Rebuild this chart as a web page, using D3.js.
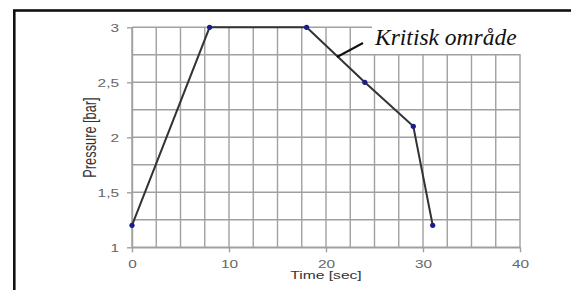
<!DOCTYPE html>
<html><head><meta charset="utf-8">
<script src="https://cdn.jsdelivr.net/npm/d3@7"></script>
<style>body{margin:0;background:#fff}svg{display:block}</style>
</head><body>
<script>
const times = [0, 8, 18, 24, 29, 31];
const pressures = [1.2, 3, 3, 2.5, 2.1, 1.2];
const xTicks = [0, 10, 20, 30, 40];
const yTicks = [1, 1.5, 2, 2.5, 3];
const yTickLabels = ["1", "1,5", "2", "2,5", "3"];
const xLabel = "Time [sec]";
const yLabel = "Pressure [bar]";
const annotation = "Kritisk område";

const W = 571, H = 290;
const svg = d3.select("body").append("svg").attr("width", W).attr("height", H);
const x = d3.scaleLinear().domain([0, 40]).range([132, 520]);
const y = d3.scaleLinear().domain([1, 3]).range([247.3, 27.3]);

// frame
svg.append("rect").attr("x", 14.3).attr("y", 10.5).attr("width", 700).attr("height", 400)
  .attr("fill", "none").attr("stroke", "#111").attr("stroke-width", 2.6);

// grid
const gridX = d3.range(0, 40.01, 2.5), gridY = d3.range(1, 3.001, 0.25);
const g = svg.append("g").attr("stroke", "#a0a0a0").attr("stroke-width", 1.4);
g.selectAll(".gx").data(gridX).join("line")
  .attr("x1", d => x(d)).attr("x2", d => x(d)).attr("y1", y(1)).attr("y2", y(3));
g.selectAll(".gy").data(gridY).join("line")
  .attr("x1", x(0)).attr("x2", x(40)).attr("y1", d => y(d)).attr("y2", d => y(d));

// axes
const ax = svg.append("g").attr("transform", `translate(0,${y(1)})`)
  .call(d3.axisBottom(x).tickValues(xTicks).tickSize(5).tickSizeOuter(0));
const ay = svg.append("g").attr("transform", `translate(${x(0)},0)`)
  .call(d3.axisLeft(y).tickValues(yTicks).tickFormat((d, i) => yTickLabels[i]).tickSize(5).tickSizeOuter(0));
[ax, ay].forEach(a => {
  a.select(".domain").attr("stroke", "#a0a0a0").attr("stroke-width", 1.4);
  a.selectAll(".tick line").attr("stroke", "#a0a0a0").attr("stroke-width", 1.4);
  a.selectAll("text").attr("fill", "#666").attr("font-family", "Arial, 'Liberation Sans', sans-serif").attr("font-size", 11);
});
ax.selectAll(".tick text").attr("y", 0).attr("dy", 0)
  .attr("transform", "translate(0,20.5) scale(1.4,1)");
ay.selectAll(".tick text").attr("x", 0).attr("dy", "0.35em")
  .attr("transform", "translate(-13,0) scale(1.4,1)");

// white box behind annotation
svg.append("rect").attr("x", 372).attr("y", 18).attr("width", 160).attr("height", 36).attr("fill", "#fff");

// axis titles
svg.append("text").attr("transform", `translate(326,279) scale(1.42,1)`)
  .attr("text-anchor", "middle").attr("font-family", "Arial, 'Liberation Sans', sans-serif")
  .attr("font-size", 11).attr("fill", "#333").text(xLabel);
svg.append("text").attr("transform", `translate(96,137.5) scale(1.4,1) rotate(-90)`)
  .attr("text-anchor", "middle").attr("font-family", "Arial, 'Liberation Sans', sans-serif")
  .attr("font-size", 12.8).attr("fill", "#333").text(yLabel);

// data line
const pts = times.map((t, i) => [t, pressures[i]]);
svg.append("path").datum(pts)
  .attr("d", d3.line().x(d => x(d[0])).y(d => y(d[1])))
  .attr("fill", "none").attr("stroke", "#333").attr("stroke-width", 2);
svg.selectAll(".pt").data(pts).join("circle")
  .attr("cx", d => x(d[0])).attr("cy", d => y(d[1])).attr("r", 2.6).attr("fill", "#1c1c8a");

// annotation
svg.append("line").attr("x1", 337).attr("y1", 57).attr("x2", 363).attr("y2", 43)
  .attr("stroke", "#111").attr("stroke-width", 2);
svg.append("text").attr("x", 375).attr("y", 45)
  .attr("font-family", "'Liberation Serif', 'Times New Roman', serif").attr("font-style", "italic")
  .attr("font-size", 23.5).attr("fill", "#111").text(annotation);
</script>
</body></html>
